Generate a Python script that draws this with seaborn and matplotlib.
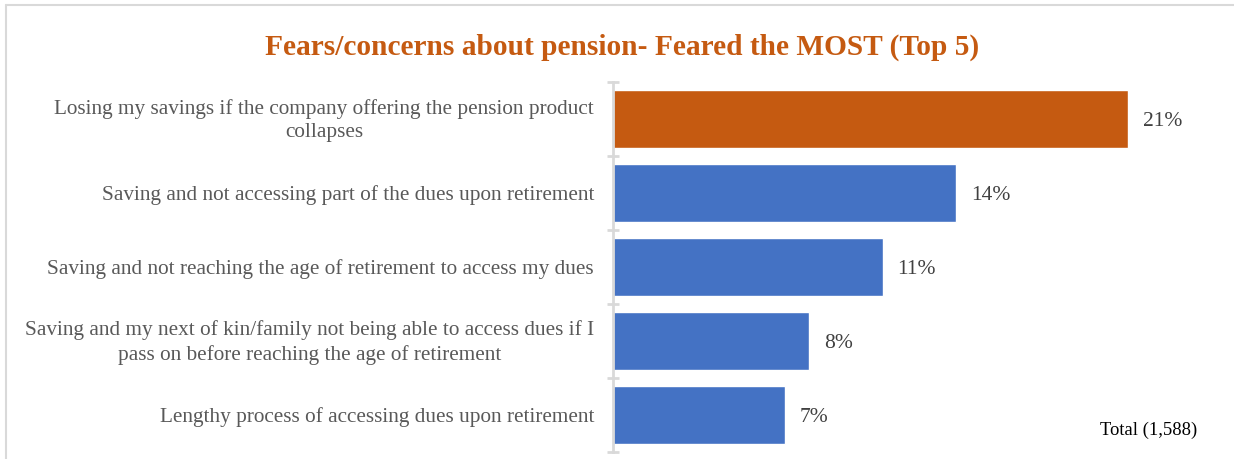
import matplotlib
matplotlib.use("Agg")
import matplotlib.pyplot as plt
import seaborn as sns
import pandas as pd
from matplotlib.lines import Line2D

categories = [
    "Losing my savings if the company offering the pension product\ncollapses",
    "Saving and not accessing part of the dues upon retirement",
    "Saving and not reaching the age of retirement to access my dues",
    "Saving and my next of kin/family not being able to access dues if I\npass on before reaching the age of retirement",
    "Lengthy process of accessing dues upon retirement",
]
values = [21, 14, 11, 8, 7]
bar_colors = ["#C55A11", "#4472C4", "#4472C4", "#4472C4", "#4472C4"]
title = "Fears/concerns about pension- Feared the MOST (Top 5)"
note = "Total (1,588)"

sns.set_theme(style="white")
plt.rcParams["font.family"] = ["Liberation Serif", "DejaVu Serif"]

df = pd.DataFrame({"category": categories, "value": values})

W, H = 1234, 459
PX_PER_UNIT = 24.5
ROW_PX = 74.0
fig = plt.figure(figsize=(W / 100, H / 100), dpi=100)
ax = fig.add_axes([613 / W, 1 - 452 / H, (1220 - 613) / W, 370 / H])

sns.barplot(data=df, y="category", x="value", hue="category",
            palette=bar_colors, legend=False, width=0.78, saturation=1,
            orient="h", ax=ax)

ax.set_xlim(0, (1220 - 613) / PX_PER_UNIT)
ax.set_ylim(len(values) - 0.5, -0.5)
ax.set_xlabel("")
ax.set_ylabel("")
ax.set_xticks([])
ax.set_yticks([])
for s in ["top", "right", "bottom"]:
    ax.spines[s].set_visible(False)
ax.spines["left"].set_color("#D9D9D9")
ax.spines["left"].set_linewidth(2)

# category boundary tick marks straddling the axis line
for b in [i - 0.5 for i in range(len(values) + 1)]:
    ax.plot([-6 / PX_PER_UNIT, 6 / PX_PER_UNIT], [b, b], color="#D9D9D9", lw=2,
            clip_on=False, solid_capstyle="butt")

dy = 2.5 / ROW_PX
for i, (cat, v) in enumerate(zip(categories, values)):
    off = dy if "\n" not in cat else 1.5 / ROW_PX
    ax.text(-19 / PX_PER_UNIT, i + off, cat, ha="right", va="center", ma="center",
            fontsize=15.3, color="#595959", linespacing=1.3)
    ax.text(v + 15 / PX_PER_UNIT, i + dy, f"{v}%", ha="left", va="center",
            fontsize=15.5, color="#404040")

fig.text(622 / W, 1 - 47 / H, title, ha="center", va="center",
         fontsize=21.2, fontweight="bold", color="#C55A11")
fig.text(1100 / W, 1 - 430 / H, note, ha="left", va="center",
         fontsize=13.4, color="#000000")

# outer frame lines
fig.add_artist(Line2D([6 / W, 6 / W], [0, 1 - 5 / H], transform=fig.transFigure,
                      color="#D9D9D9", lw=1.5))
fig.add_artist(Line2D([6 / W, 1], [1 - 5 / H, 1 - 5 / H], transform=fig.transFigure,
                      color="#D9D9D9", lw=1.5))

fig.savefig("out.png", dpi=100)
